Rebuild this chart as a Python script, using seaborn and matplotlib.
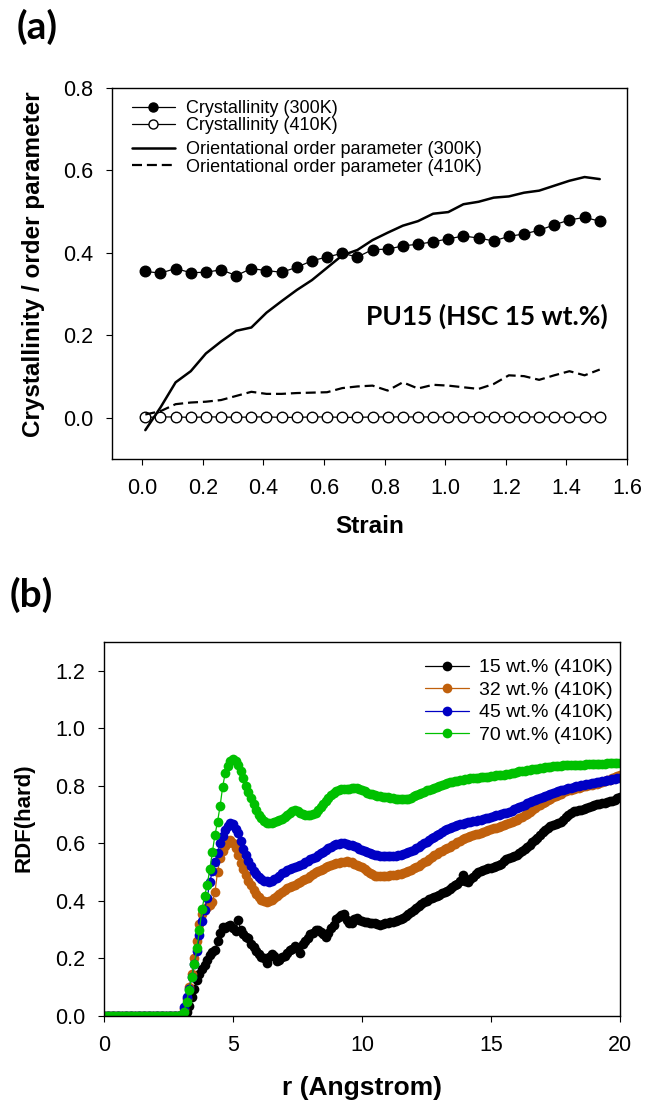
import numpy as np
import pandas as pd
import matplotlib
matplotlib.use("Agg")
import matplotlib.pyplot as plt
from matplotlib.ticker import FormatStrFormatter
import seaborn as sns

# ---------------- Panel (a) data ----------------
strain = [0.01, 0.06, 0.11, 0.16, 0.21, 0.26, 0.31, 0.36, 0.41, 0.46,
          0.51, 0.56, 0.61, 0.66, 0.71, 0.76, 0.81, 0.86, 0.91, 0.96,
          1.01, 1.06, 1.11, 1.16, 1.21, 1.26, 1.31, 1.36, 1.41, 1.46, 1.51]
cryst_300 = [0.355, 0.351, 0.362, 0.352, 0.353, 0.359, 0.345, 0.362, 0.357, 0.353,
             0.365, 0.381, 0.390, 0.399, 0.390, 0.408, 0.409, 0.417, 0.421, 0.427,
             0.434, 0.441, 0.436, 0.429, 0.440, 0.446, 0.455, 0.468, 0.480, 0.486, 0.477]
cryst_410 = [0.001, 0.002, 0.002, 0.001, 0.002, 0.002, 0.001, 0.002, 0.002, 0.001,
             0.001, 0.002, 0.002, 0.001, 0.001, 0.002, 0.002, 0.002, 0.002, 0.002,
             0.002, 0.002, 0.003, 0.002, 0.003, 0.002, 0.002, 0.002, 0.001, 0.002, 0.002]
order_300 = [-0.030, 0.025, 0.086, 0.113, 0.156, 0.185, 0.211, 0.219, 0.255, 0.283,
             0.310, 0.334, 0.364, 0.394, 0.407, 0.431, 0.449, 0.466, 0.477, 0.495,
             0.499, 0.518, 0.524, 0.534, 0.537, 0.546, 0.551, 0.563, 0.575, 0.584, 0.579]
order_410 = [0.008, 0.016, 0.033, 0.037, 0.039, 0.043, 0.053, 0.063, 0.058, 0.058,
             0.060, 0.061, 0.062, 0.072, 0.076, 0.078, 0.066, 0.086, 0.071, 0.080,
             0.078, 0.074, 0.070, 0.082, 0.103, 0.101, 0.092, 0.103, 0.113, 0.103, 0.117]
labels_a = ["Crystallinity (300K)", "Crystallinity (410K)",
            "Orientational order parameter (300K)", "Orientational order parameter (410K)"]
xticks_a = [0.0, 0.2, 0.4, 0.6, 0.8, 1.0, 1.2, 1.4, 1.6]
yticks_a = [0.0, 0.2, 0.4, 0.6, 0.8]

# ---------------- Panel (b) data ----------------
r = np.round(np.arange(201) * 0.1, 1)
rdf_15 = [0.0, 0.0, 0.0, 0.0, 0.0, 0.0, 0.0, 0.0, 0.0, 0.0,
          0.0, 0.0, 0.0, 0.0, 0.0, 0.0, 0.0, 0.0, 0.0, 0.0,
          0.0, 0.0, 0.0, 0.0, 0.0, 0.0, 0.0, 0.0, 0.0, 0.0,
          0.000, 0.005, 0.015, 0.035, 0.065, 0.095, 0.125, 0.145, 0.162, 0.178,
          0.195, 0.212, 0.223, 0.228, 0.260, 0.290, 0.310, 0.305, 0.312, 0.315,
          0.305, 0.296, 0.333, 0.300, 0.285, 0.275, 0.270, 0.250, 0.240, 0.225,
          0.215, 0.205, 0.200, 0.183, 0.205, 0.215, 0.210, 0.190, 0.195, 0.205,
          0.210, 0.220, 0.228, 0.232, 0.245, 0.238, 0.218, 0.250, 0.262, 0.272,
          0.285, 0.290, 0.298, 0.300, 0.292, 0.285, 0.276, 0.290, 0.305, 0.318,
          0.338, 0.345, 0.352, 0.355, 0.335, 0.322, 0.325, 0.338, 0.340, 0.334,
          0.330, 0.328, 0.326, 0.325, 0.324, 0.322, 0.320, 0.318, 0.320, 0.322,
          0.324, 0.326, 0.328, 0.331, 0.334, 0.338, 0.342, 0.347, 0.354, 0.360,
          0.368, 0.376, 0.384, 0.391, 0.396, 0.401, 0.407, 0.411, 0.414, 0.418,
          0.421, 0.426, 0.431, 0.436, 0.441, 0.448, 0.455, 0.460, 0.468, 0.490,
          0.470, 0.467, 0.475, 0.484, 0.492, 0.500, 0.504, 0.507, 0.510, 0.513,
          0.516, 0.519, 0.522, 0.525, 0.530, 0.538, 0.544, 0.548, 0.552, 0.557,
          0.561, 0.567, 0.573, 0.580, 0.588, 0.596, 0.605, 0.612, 0.620, 0.630,
          0.640, 0.647, 0.653, 0.659, 0.664, 0.669, 0.672, 0.676, 0.683, 0.690,
          0.698, 0.705, 0.712, 0.714, 0.716, 0.717, 0.718, 0.722, 0.727, 0.731,
          0.735, 0.737, 0.738, 0.740, 0.741, 0.744, 0.746, 0.749, 0.752, 0.757,
          0.761]
rdf_32 = [0.0, 0.0, 0.0, 0.0, 0.0, 0.0, 0.0, 0.0, 0.0, 0.0,
          0.0, 0.0, 0.0, 0.0, 0.0, 0.0, 0.0, 0.0, 0.0, 0.0,
          0.0, 0.0, 0.0, 0.0, 0.0, 0.0, 0.0, 0.0, 0.0, 0.0,
          0.005, 0.025, 0.060, 0.100, 0.145, 0.200, 0.260, 0.320, 0.355, 0.370,
          0.378, 0.385, 0.395, 0.430, 0.500, 0.550, 0.572, 0.590, 0.603, 0.612,
          0.600, 0.585, 0.560, 0.532, 0.510, 0.490, 0.470, 0.455, 0.438, 0.425,
          0.413, 0.404, 0.398, 0.396, 0.398, 0.403, 0.410, 0.417, 0.424, 0.431,
          0.438, 0.445, 0.449, 0.453, 0.457, 0.462, 0.467, 0.471, 0.476, 0.481,
          0.487, 0.493, 0.499, 0.504, 0.508, 0.512, 0.517, 0.521, 0.525, 0.528,
          0.531, 0.533, 0.535, 0.537, 0.538, 0.537, 0.534, 0.530, 0.526, 0.522,
          0.517, 0.510, 0.503, 0.497, 0.492, 0.488, 0.486, 0.485, 0.486, 0.487,
          0.488, 0.489, 0.490, 0.491, 0.493, 0.495, 0.498, 0.501, 0.505, 0.509,
          0.513, 0.518, 0.523, 0.528, 0.534, 0.540, 0.546, 0.552, 0.558, 0.564,
          0.569, 0.574, 0.579, 0.584, 0.589, 0.594, 0.599, 0.604, 0.609, 0.614,
          0.618, 0.622, 0.625, 0.628, 0.631, 0.634, 0.637, 0.640, 0.643, 0.646,
          0.649, 0.652, 0.655, 0.658, 0.661, 0.664, 0.667, 0.671, 0.675, 0.679,
          0.683, 0.688, 0.693, 0.698, 0.703, 0.709, 0.716, 0.723, 0.730, 0.735,
          0.740, 0.745, 0.750, 0.755, 0.760, 0.764, 0.768, 0.772, 0.777, 0.781,
          0.784, 0.786, 0.788, 0.791, 0.793, 0.796, 0.798, 0.800, 0.802, 0.804,
          0.806, 0.808, 0.811, 0.814, 0.817, 0.819, 0.822, 0.826, 0.830, 0.834,
          0.838]
rdf_45 = [0.0, 0.0, 0.0, 0.0, 0.0, 0.0, 0.0, 0.0, 0.0, 0.0,
          0.0, 0.0, 0.0, 0.0, 0.0, 0.0, 0.0, 0.0, 0.0, 0.0,
          0.0, 0.0, 0.0, 0.0, 0.0, 0.0, 0.0, 0.0, 0.0, 0.0,
          0.005, 0.030, 0.065, 0.095, 0.135, 0.180, 0.225, 0.280, 0.330, 0.370,
          0.410, 0.465, 0.505, 0.535, 0.565, 0.600, 0.625, 0.648, 0.662, 0.670,
          0.668, 0.650, 0.636, 0.610, 0.580, 0.558, 0.538, 0.520, 0.505, 0.492,
          0.482, 0.475, 0.470, 0.468, 0.467, 0.470, 0.475, 0.480, 0.488, 0.496,
          0.502, 0.506, 0.510, 0.514, 0.518, 0.522, 0.526, 0.530, 0.534, 0.540,
          0.545, 0.549, 0.553, 0.559, 0.565, 0.571, 0.577, 0.583, 0.589, 0.595,
          0.597, 0.599, 0.600, 0.600, 0.598, 0.596, 0.593, 0.590, 0.586, 0.581,
          0.577, 0.573, 0.569, 0.565, 0.562, 0.560, 0.558, 0.557, 0.556, 0.556,
          0.556, 0.556, 0.556, 0.557, 0.558, 0.560, 0.562, 0.565, 0.569, 0.573,
          0.578, 0.583, 0.589, 0.595, 0.600, 0.605, 0.611, 0.617, 0.623, 0.629,
          0.634, 0.639, 0.645, 0.649, 0.653, 0.657, 0.661, 0.664, 0.667, 0.669,
          0.671, 0.673, 0.675, 0.677, 0.679, 0.681, 0.683, 0.685, 0.687, 0.689,
          0.691, 0.694, 0.697, 0.699, 0.702, 0.705, 0.707, 0.710, 0.714, 0.718,
          0.722, 0.727, 0.731, 0.735, 0.739, 0.743, 0.747, 0.751, 0.755, 0.759,
          0.762, 0.766, 0.769, 0.772, 0.776, 0.779, 0.782, 0.784, 0.787, 0.789,
          0.791, 0.794, 0.796, 0.798, 0.800, 0.802, 0.804, 0.806, 0.807, 0.809,
          0.811, 0.813, 0.815, 0.816, 0.818, 0.819, 0.821, 0.823, 0.825, 0.827,
          0.829]
rdf_70 = [0.0, 0.0, 0.0, 0.0, 0.0, 0.0, 0.0, 0.0, 0.0, 0.0,
          0.0, 0.0, 0.0, 0.0, 0.0, 0.0, 0.0, 0.0, 0.0, 0.0,
          0.0, 0.0, 0.0, 0.0, 0.0, 0.0, 0.0, 0.0, 0.0, 0.0,
          0.003, 0.015, 0.050, 0.090, 0.137, 0.180, 0.235, 0.300, 0.372, 0.418,
          0.455, 0.510, 0.570, 0.629, 0.675, 0.730, 0.797, 0.845, 0.868, 0.885,
          0.892, 0.885, 0.872, 0.852, 0.828, 0.800, 0.778, 0.758, 0.738, 0.715,
          0.700, 0.688, 0.678, 0.672, 0.670, 0.671, 0.674, 0.677, 0.681, 0.686,
          0.692, 0.700, 0.707, 0.714, 0.716, 0.712, 0.706, 0.702, 0.700, 0.699,
          0.700, 0.701, 0.706, 0.716, 0.726, 0.738, 0.749, 0.758, 0.767, 0.775,
          0.781, 0.786, 0.788, 0.788, 0.788, 0.790, 0.793, 0.794, 0.792, 0.789,
          0.786, 0.781, 0.776, 0.773, 0.770, 0.767, 0.765, 0.763, 0.762, 0.761,
          0.760, 0.758, 0.757, 0.756, 0.755, 0.754, 0.753, 0.753, 0.756, 0.759,
          0.763, 0.767, 0.771, 0.776, 0.780, 0.784, 0.787, 0.790, 0.793, 0.797,
          0.800, 0.804, 0.807, 0.810, 0.812, 0.815, 0.817, 0.818, 0.820, 0.821,
          0.823, 0.824, 0.826, 0.827, 0.828, 0.829, 0.830, 0.831, 0.832, 0.832,
          0.834, 0.835, 0.836, 0.837, 0.838, 0.839, 0.840, 0.842, 0.844, 0.846,
          0.848, 0.850, 0.852, 0.853, 0.855, 0.856, 0.857, 0.859, 0.860, 0.861,
          0.863, 0.864, 0.865, 0.867, 0.868, 0.869, 0.870, 0.870, 0.871, 0.871,
          0.872, 0.872, 0.873, 0.873, 0.874, 0.874, 0.874, 0.875, 0.875, 0.876,
          0.876, 0.876, 0.877, 0.877, 0.877, 0.878, 0.878, 0.878, 0.878, 0.879,
          0.879]
labels_b = ["15 wt.% (410K)", "32 wt.% (410K)", "45 wt.% (410K)", "70 wt.% (410K)"]
colors_b = ["#000000", "#C0600C", "#0000C4", "#00C000"]
xticks_b = [0, 5, 10, 15, 20]
yticks_b = [0.0, 0.2, 0.4, 0.6, 0.8, 1.0, 1.2]

# ---------------- Style ----------------
sns.set_theme(style="ticks")
plt.rcParams["font.family"] = ["Liberation Sans", "DejaVu Sans"]
plt.rcParams["axes.edgecolor"] = "black"
plt.rcParams["axes.linewidth"] = 1.0
plt.rcParams["xtick.color"] = "black"
plt.rcParams["ytick.color"] = "black"
plt.rcParams["text.color"] = "black"
plt.rcParams["axes.labelcolor"] = "black"

W, H = 645, 1106
fig = plt.figure(figsize=(W / 100, H / 100), dpi=100)
fig.patch.set_facecolor("white")

def frac_box(l, t, rgt, b):
    return [l / W, 1 - b / H, (rgt - l) / W, (b - t) / H]

TICK_FS = 15.5
title_font = ["Lato", "DejaVu Sans"]

# ---------------- Panel (a) ----------------
axa = fig.add_axes(frac_box(112, 88, 627, 459))
sns.lineplot(x=strain, y=cryst_300, ax=axa, color="black", lw=0.9, marker="o",
             markersize=7.6, markerfacecolor="black", markeredgecolor="black",
             markeredgewidth=1.0, errorbar=None, label=labels_a[0])
sns.lineplot(x=strain, y=cryst_410, ax=axa, color="black", lw=0.9, marker="o",
             markersize=7.6, markerfacecolor="white", markeredgecolor="black",
             markeredgewidth=1.0, errorbar=None, label=labels_a[1])
sns.lineplot(x=strain, y=order_300, ax=axa, color="black", lw=1.8,
             errorbar=None, label=labels_a[2])
sns.lineplot(x=strain, y=order_410, ax=axa, color="black", lw=1.6,
             linestyle=(0, (4.5, 2.2)), errorbar=None, label=labels_a[3])
axa.set_xlim(-0.1, 1.6)
axa.set_ylim(-0.1, 0.8)
axa.set_xticks(xticks_a)
axa.set_yticks(yticks_a)
axa.xaxis.set_major_formatter(FormatStrFormatter("%.1f"))
axa.yaxis.set_major_formatter(FormatStrFormatter("%.1f"))
axa.tick_params(axis="both", direction="out", length=4.5, width=0.8,
                pad=9, labelsize=TICK_FS)
axa.set_xlabel("Strain", fontsize=17.5, fontweight="bold")
axa.set_ylabel("Crystallinity / order parameter", fontsize=17.5, fontweight="bold")
axa.xaxis.set_label_coords(0.5, -0.183)
axa.xaxis.label.set_verticalalignment("center")
axa.yaxis.set_label_coords(-0.153, 0.526)
axa.yaxis.label.set_verticalalignment("center")
axa.text(1.535, 0.245, "PU15 (HSC 15 wt.%)", ha="right", va="center",
         fontsize=19, fontweight="bold", family=title_font)

handles_a, _ = axa.get_legend_handles_labels()
leg_kw = dict(loc="upper left", frameon=False, fontsize=13, borderpad=0,
              borderaxespad=0, labelspacing=0.03, handlelength=2.38,
              handletextpad=0.6)
leg_a1 = axa.legend(handles_a[:2], labels_a[:2], bbox_to_anchor=(0.0388, 0.968), **leg_kw)
for h in leg_a1.legend_handles:
    h.set_markersize(6.5)
axa.add_artist(leg_a1)
axa.legend(handles_a[2:], labels_a[2:], bbox_to_anchor=(0.0388, 0.857), **leg_kw)
for s in axa.spines.values():
    s.set_visible(True)
    s.set_color("black")

# ---------------- Panel (b) ----------------
axb = fig.add_axes(frac_box(104, 642, 620, 1016))
for vals, lab, col in zip([rdf_15, rdf_32, rdf_45, rdf_70], labels_b, colors_b):
    sns.lineplot(x=r, y=vals, ax=axb, color=col, lw=0.9, marker="o",
                 markersize=7.0, markeredgewidth=0, errorbar=None, label=lab)
axb.set_xlim(0, 20)
axb.set_ylim(0, 1.3)
axb.set_xticks(xticks_b)
axb.set_yticks(yticks_b)
axb.xaxis.set_major_formatter(FormatStrFormatter("%d"))
axb.yaxis.set_major_formatter(FormatStrFormatter("%.1f"))
axb.tick_params(axis="both", direction="out", length=4.5, width=0.8,
                pad=9, labelsize=TICK_FS)
axb.set_xlabel("r (Angstrom)", fontsize=19, fontweight="bold")
axb.set_ylabel("RDF(hard)", fontsize=16, fontweight="bold")
axb.xaxis.set_label_coords(0.5, -0.1925)
axb.xaxis.label.set_verticalalignment("center")
axb.yaxis.set_label_coords(-0.155, 0.529)
axb.yaxis.label.set_verticalalignment("center")
axb.legend(loc="upper right", bbox_to_anchor=(0.986, 0.955), frameon=False,
           fontsize=14, borderpad=0, borderaxespad=0, labelspacing=0.25,
           handlelength=2.3, handletextpad=0.5)
for s in axb.spines.values():
    s.set_visible(True)
    s.set_color("black")

# ---------------- Panel letters ----------------
fig.text(37 / W, 1 - 27 / H, "(a)", ha="center", va="center", fontsize=28,
         fontweight="bold", family=title_font)
fig.text(31 / W, 1 - 595 / H, "(b)", ha="center", va="center", fontsize=28,
         fontweight="bold", family=title_font)

fig.savefig("out.png", dpi=100, facecolor="white")
